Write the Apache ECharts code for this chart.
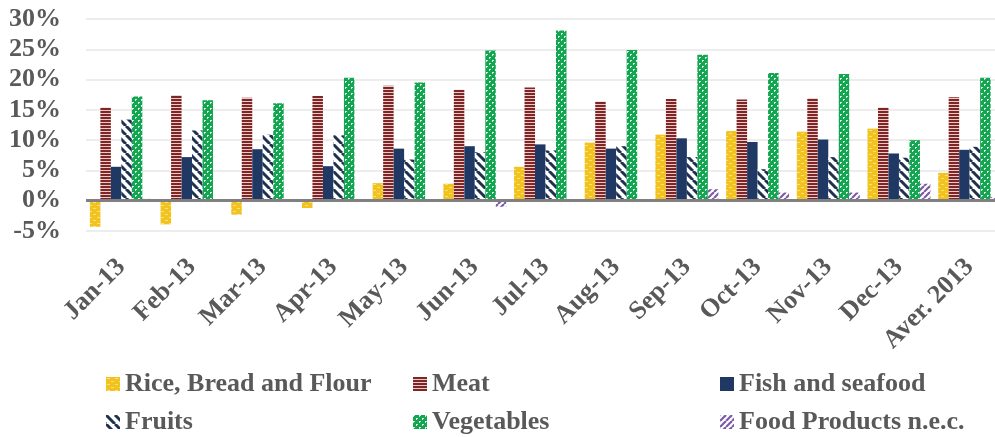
<!DOCTYPE html>
<html style="height: 100%">
<head>
    <meta charset="utf-8">
    <script src="https://cdn.jsdelivr.net/npm/echarts@6/dist/echarts.min.js"></script>
</head>
<body style="height: 100%; margin: 0; background: #fff">
    <div id="container" style="width: 995px; height: 437px"></div>
    <script type="text/javascript">

        let months = ['Jan-13', 'Feb-13', 'Mar-13', 'Apr-13', 'May-13', 'Jun-13', 'Jul-13',
            'Aug-13', 'Sep-13', 'Oct-13', 'Nov-13', 'Dec-13', 'Aver. 2013'];

        let rice = [-4.3, -3.9, -2.3, -1.2, 2.9, 2.8, 5.6, 9.6, 10.9, 11.5, 11.4, 11.9, 4.6];
        let meat = [15.4, 17.4, 17.0, 17.3, 19.0, 18.3, 18.7, 16.4, 16.8, 16.7, 16.9, 15.4, 17.1];
        let fish = [5.6, 7.2, 8.5, 5.7, 8.6, 9.0, 9.3, 8.6, 10.3, 9.7, 10.1, 7.8, 8.4];
        let fruits = [13.4, 11.6, 10.9, 10.8, 6.8, 8.0, 8.3, 9.0, 7.2, 5.2, 7.2, 7.1, 8.9];
        let vegetables = [17.2, 16.6, 16.1, 20.3, 19.5, 24.8, 28.1, 24.9, 24.1, 21.1, 20.9, 10.0, 20.3];
        let foodProducts = [0.3, 0, 0, 0, -0.2, -1.0, 0, 0.2, 1.9, 1.35, 1.35, 2.8, 0.6];

        let yTicks = [-5, 0, 5, 10, 15, 20, 25, 30];

        // small canvas tiles used as bar fills
        function makePattern(w, h, draw) {
            let c = document.createElement('canvas');
            c.width = w;
            c.height = h;
            draw(c.getContext('2d'));
            return { image: c, repeat: 'repeat' };
        }

        let ricePattern = makePattern(8, 6, function (ctx) {
            ctx.fillStyle = '#F2C21F';
            ctx.fillRect(0, 0, 8, 6);
            ctx.fillStyle = '#FAE07E';
            ctx.fillRect(1, 1, 3, 1);
            ctx.fillRect(5, 4, 3, 1);
        });

        let meatPattern = makePattern(2, 3, function (ctx) {
            ctx.fillStyle = '#7E2525';
            ctx.fillRect(0, 0, 2, 2);
            ctx.fillStyle = '#EBCACA';
            ctx.fillRect(0, 2, 2, 1);
        });

        let fruitsPattern = makePattern(9, 9, function (ctx) {
            ctx.fillStyle = '#ffffff';
            ctx.fillRect(0, 0, 9, 9);
            ctx.strokeStyle = '#1F3150';
            ctx.lineWidth = 3;
            for (let k = -9; k <= 9; k += 9) {
                ctx.beginPath();
                ctx.moveTo(k, 0);
                ctx.lineTo(k + 9, 9);
                ctx.stroke();
            }
        });

        let vegPattern = makePattern(6, 6, function (ctx) {
            ctx.fillStyle = '#14A552';
            ctx.fillRect(0, 0, 6, 6);
            ctx.fillStyle = 'rgba(255,255,255,0.75)';
            ctx.fillRect(0, 0, 2, 1);
            ctx.fillRect(0, 0, 1, 2);
            ctx.fillRect(3, 3, 2, 1);
            ctx.fillRect(3, 3, 1, 2);
        });

        let foodPattern = makePattern(6, 6, function (ctx) {
            ctx.fillStyle = '#ffffff';
            ctx.fillRect(0, 0, 6, 6);
            ctx.strokeStyle = '#7D5BA6';
            ctx.lineWidth = 2.2;
            for (let k = -6; k <= 6; k += 6) {
                ctx.beginPath();
                ctx.moveTo(k, 6);
                ctx.lineTo(k + 6, 0);
                ctx.stroke();
            }
        });

        let font = 'Liberation Serif';
        let textColor = '#595959';

        function bar(name, values, fill) {
            return {
                name: name,
                type: 'bar',
                data: values,
                barGap: 0,
                barCategoryGap: '11%',
                itemStyle: { color: fill },
                emphasis: { disabled: true }
            };
        }

        let series = [
            bar('Rice, Bread and Flour', rice, ricePattern),
            bar('Meat', meat, meatPattern),
            bar('Fish and seafood', fish, '#1F3864'),
            bar('Fruits', fruits, fruitsPattern),
            bar('Vegetables', vegetables, vegPattern),
            bar('Food Products n.e.c.', foodProducts, foodPattern)
        ];
        // zero line drawn over the bars, axis labels stay at the bottom
        series[0].markLine = {
            silent: true,
            symbol: 'none',
            label: { show: false },
            lineStyle: { color: '#808080', width: 3, type: 'solid' },
            data: [{ yAxis: 0 }]
        };

        let legendText = { fontFamily: font, fontWeight: 'bold', fontSize: 26, color: textColor };

        // one legend per item so each sits in its own cell
        function legendItem(name, left, top) {
            return {
                data: [name],
                left: left,
                top: top,
                icon: 'rect',
                itemWidth: 14,
                itemHeight: 14,
                padding: 0,
                selectedMode: false,
                textStyle: legendText
            };
        }

        let dom = document.getElementById('container');
        let chart = echarts.init(dom, null, { renderer: 'canvas' });
        chart.setOption({
            animation: false,
            backgroundColor: '#ffffff',
            grid: { left: 86, right: -10, top: 19, bottom: 206, outerBoundsMode: 'none', containLabel: false },
            legend: [
                legendItem('Rice, Bread and Flour', 106, 371),
                legendItem('Meat', 413, 371),
                legendItem('Fish and seafood', 720, 371),
                legendItem('Fruits', 106, 409),
                legendItem('Vegetables', 413, 409),
                legendItem('Food Products n.e.c.', 720, 409)
            ],
            xAxis: {
                type: 'category',
                data: months,
                axisLine: { show: false, onZero: false },
                axisTick: { show: false },
                axisLabel: {
                    rotate: 45,
                    interval: 0,
                    margin: 32,
                    fontFamily: font,
                    fontWeight: 'bold',
                    fontSize: 26,
                    color: textColor
                }
            },
            yAxis: {
                type: 'value',
                min: yTicks[0],
                max: yTicks[yTicks.length - 1],
                interval: 5,
                axisLine: { show: false },
                axisTick: { show: false },
                splitLine: { lineStyle: { color: '#EDEDED', width: 2 } },
                axisLabel: {
                    margin: 25,
                    formatter: '{value}%',
                    fontFamily: font,
                    fontWeight: 'bold',
                    fontSize: 26,
                    color: textColor
                }
            },
            series: series
        });

    </script>
</body>
</html>
